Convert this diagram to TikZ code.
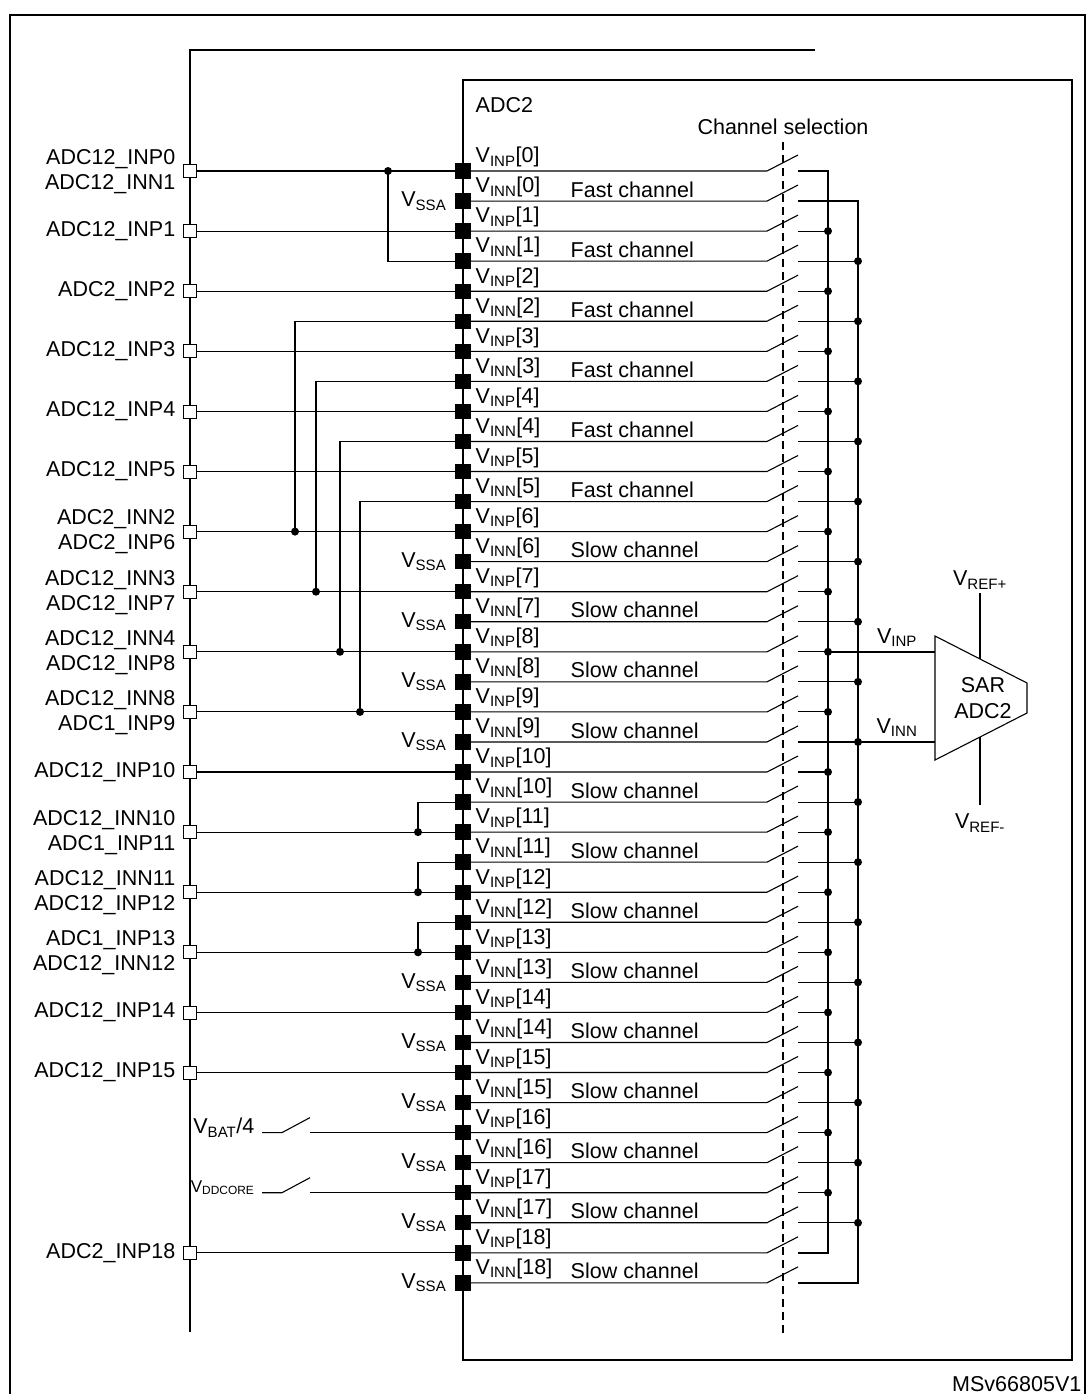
\documentclass[tikz,border=0pt]{standalone}
\usepackage{fontspec}
\setmainfont{Liberation Sans}
\newcommand\Vsub[1]{V\textsubscript{#1}}
\begin{document}
\begin{tikzpicture}[x=1pt,y=-1pt,line width=1.4pt,
  txt/.style={font=\fontsize{21.5}{24}\selectfont,inner sep=0pt},
  pinbox/.style={draw,fill=black,minimum size=14pt,inner sep=0pt},
  extbox/.style={draw,fill=white,line width=0.8pt,minimum size=13pt,inner sep=0pt},
  dotc/.style={circle,fill=black,inner sep=0pt,minimum size=8pt},
  wire/.style={line width=1.1pt}]
\useasboundingbox (0,0) rectangle (1089,1394);
% frames
\draw[line width=1.6pt] (10,1394) -- (10,15) -- (1085,15) -- (1085,1394);
\draw[line width=1.6pt] (190,1332) -- (190,50) -- (815,50);
\draw[line width=1.6pt] (463,80) rectangle (1072,1360);
\node[txt,anchor=west] at (475,105) {ADC2};
\node[txt,anchor=center] at (783,127) {Channel selection};
\node[txt,anchor=south east] at (1082,1392) {MSv66805V1};
\draw[wire,dash pattern=on 8pt off 5pt] (783,142) -- (783,1335);
% buses
\draw[wire] (798,171) -- (828,171) -- (828,1253) -- (798,1253);
\draw[wire] (798,201) -- (858,201) -- (858,1283) -- (798,1283);
% rows
\foreach \k in {0,...,37}{
  \pgfmathsetmacro\yy{171+30.05*\k}
  \pgfmathtruncatemacro\ii{floor(\k/2)}
  \coordinate (r\k) at (463,\yy);
  \draw[wire] (470,\yy) -- (767,\yy) -- (798,\yy-16);
  \ifodd\k
    \draw[wire] (798,\yy) -- (858,\yy);
    \node[txt,anchor=south west] at (475,\yy-3) {\Vsub{INN}[\ii]};
    \ifnum\k<12 \node[txt,anchor=south west] at (570,\yy-3) {Fast channel};
    \else \node[txt,anchor=south west] at (570,\yy-3) {Slow channel}; \fi
    \ifnum\k>1 \ifnum\k<37 \node[dotc] at (858,\yy) {}; \fi\fi
  \else
    \draw[wire] (798,\yy) -- (828,\yy);
    \node[txt,anchor=south west] at (475,\yy-3) {\Vsub{INP}[\ii]};
    \ifnum\k>0 \ifnum\k<36 \node[dotc] at (828,\yy) {}; \fi\fi
  \fi
}
% vertical pin bus
\draw[line width=1.6pt] (463,80) -- (463,1360);
% VSSA
\foreach \k in {1,13,15,17,19,27,29,31,33,35,37}{
  \node[txt,anchor=east] at (447,171+30.05*\k) {\Vsub{SSA}};
}
% external pins
\foreach \k/\la/\lb in {0/ADC12\_INP0/ADC12\_INN1, 12/ADC2\_INN2/ADC2\_INP6, 14/ADC12\_INN3/ADC12\_INP7,
  16/ADC12\_INN4/ADC12\_INP8, 18/ADC12\_INN8/ADC1\_INP9, 22/ADC12\_INN10/ADC1\_INP11,
  24/ADC12\_INN11/ADC12\_INP12, 26/ADC1\_INP13/ADC12\_INN12}{
  \node[extbox] (e\k) at (190,171+30.05*\k) {};
  \node[txt,anchor=east] at (176,171+30.05*\k-12) {\la};
  \node[txt,anchor=east] at (176,171+30.05*\k+13) {\lb};
}
\foreach \k/\la in {2/ADC12\_INP1,4/ADC2\_INP2,6/ADC12\_INP3,8/ADC12\_INP4,10/ADC12\_INP5,
  20/ADC12\_INP10,28/ADC12\_INP14,30/ADC12\_INP15,36/ADC2\_INP18}{
  \node[extbox] (e\k) at (190,171+30.05*\k) {};
  \node[txt,anchor=east] at (176,171+30.05*\k) {\la};
}
\foreach \k in {0,2,4,6,8,10,12,14,16,18,20,22,24,26,28,30,36}{
  \draw[wire] (e\k) -- (r\k);
}
% VBAT, VDDCORE switches
\foreach \k/\la in {32/{\Vsub{BAT}/4}, 34/{{\fontsize{17}{18}\selectfont\Vsub{DDCORE}}}}{
  \pgfmathsetmacro\yy{171+30.05*\k}
  \node[txt,anchor=east] (s\k) at (255,\yy-5) {\la};
  \draw[wire] (262,\yy) -- (282,\yy) -- (310,\yy-15);
  \draw[wire] (310,\yy) -- (r\k);
}
% cross connections
\foreach \a/\b/\x in {3/0/388,5/12/295,7/14/316,9/16/340,11/18/360,21/22/418,23/24/418,25/26/418}{
  \draw[wire] (r\a) -- (\x,171+30.05*\a) -- (\x,171+30.05*\b);
  \node[dotc] at (\x,171+30.05*\b) {};
}
% pin squares
\foreach \k in {0,...,37}{ \node[pinbox] at (r\k) {}; }
% SAR ADC
\draw[wire] (935,636) -- (1027,683) -- (1027,713) -- (935,760) -- cycle;
\node[txt,align=center] at (983,698) {SAR\\[2pt]ADC2};
\draw[wire] (858,742) -- (935,742);
\draw[wire] (828,652) -- (935,652);
\node[txt,anchor=south] at (897,647) {\Vsub{INP}};
\node[txt,anchor=south] at (897,737) {\Vsub{INN}};
\draw[wire] (980,593) -- (980,659);
\draw[wire] (980,737) -- (980,805);
\node[txt] at (980,580) {\Vsub{REF+}};
\node[txt] at (980,823) {\Vsub{REF-}};
\end{tikzpicture}
\end{document}
